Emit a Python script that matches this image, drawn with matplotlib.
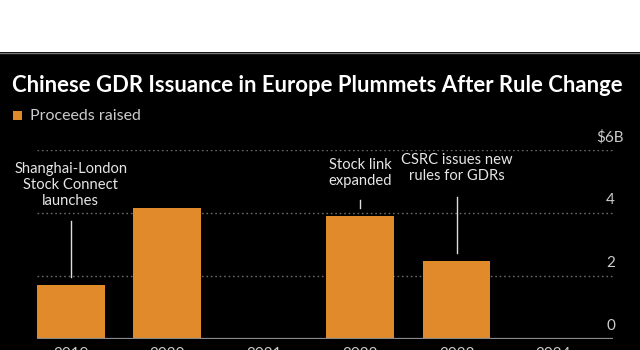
import matplotlib
matplotlib.use("Agg")
import matplotlib.pyplot as plt
from matplotlib.patches import Rectangle
from matplotlib.lines import Line2D
import matplotlib.transforms as mtransforms

# ---- data ----
years = ["2019", "2020", "2021", "2022", "2023", "2024"]
proceeds = [1.71, 4.15, 0.03, 3.90, 2.48, 0.03]   # $B
yticks = [0, 2, 4, 6]
ytick_labels = ["0", "2", "4", "6"]
title = "Chinese GDR Issuance in Europe Plummets After Rule Change"
legend_label = "Proceeds raised"
notes = ["Shanghai-London\nStock Connect\nlaunches", "Stock link\nexpanded", "CSRC issues new\nrules for GDRs"]
note_bar = [0, 3, 4]

# ---- layout ----
note_line = [(1.97, 3.75), (4.16, 4.41), (2.73, 4.51)]
note_text_y = [4.25, 4.89, 5.05]

BAR = "#e08a2b"
FONT = ["Lato", "DejaVu Sans"]
plt.rcParams["font.family"] = FONT

fig = plt.figure(figsize=(6.4, 3.5), dpi=100, facecolor="black")
# white strip at top
fig.patches.append(Rectangle((0, 1 - 52 / 350), 1, 52 / 350, transform=fig.transFigure,
                             facecolor="white", edgecolor="none", zorder=0))
fig.lines.append(Line2D([0, 1], [1 - 52.5 / 350] * 2, transform=fig.transFigure,
                        color="#777777", lw=1))

ax = fig.add_axes([37 / 640, 11 / 350, 576 / 640, 189 / 350])
ax.set_facecolor("black")
x = list(range(len(years)))
ax.bar(x, proceeds, width=0.7, color=BAR, zorder=2)
ax.set_xlim(-0.35, 5.62)
ax.set_ylim(0, 6)

for s in ax.spines.values():
    s.set_visible(False)
ax.axhline(0, color="#8a8a8a", lw=1.6, zorder=3)
for v in yticks[1:]:
    ax.axhline(v, color="#6a6a6a", lw=1, ls=(0, (1.2, 2)), zorder=1)

ax.set_yticks([])
ax.set_xticks(x)
ax.set_xticklabels(years, color="#cccccc", fontsize=11)
ax.tick_params(axis="x", length=0, pad=6)

tr = mtransforms.blended_transform_factory(ax.transAxes, ax.transData)
off = mtransforms.ScaledTranslation(0, 4 / 72, fig.dpi_scale_trans)
for v, lab in zip(yticks, ytick_labels):
    if v == yticks[-1]:
        ax.text(1.0 + 11 / 576, v, "$" + lab + "B", transform=tr + off, ha="right", va="bottom",
                color="#cccccc", fontsize=11)
    else:
        ax.text(1.0 + 2 / 576, v, lab, transform=tr + off, ha="right", va="bottom",
                color="#cccccc", fontsize=11)

for txt, b, (y0, y1), ty in zip(notes, note_bar, note_line, note_text_y):
    ax.plot([x[b], x[b]], [y0, y1], color="#dddddd", lw=1, zorder=4)
    ax.text(x[b], ty, txt, ha="center", va="baseline", color="#e6e6e6", fontsize=10.6,
            linespacing=1.2, zorder=4)

fig.text(12 / 640, 1 - 85 / 350, title, color="white", fontsize=15.9, fontweight="bold",
         ha="left", va="center")
fig.patches.append(Rectangle((13 / 640, 1 - 120 / 350), 9 / 640, 9 / 350, transform=fig.transFigure,
                             facecolor=BAR, edgecolor="none"))
fig.text(30 / 640, 1 - 116 / 350, legend_label, color="#cccccc", fontsize=11.5, ha="left", va="center")

fig.savefig("out.png", dpi=100, facecolor=fig.get_facecolor())
